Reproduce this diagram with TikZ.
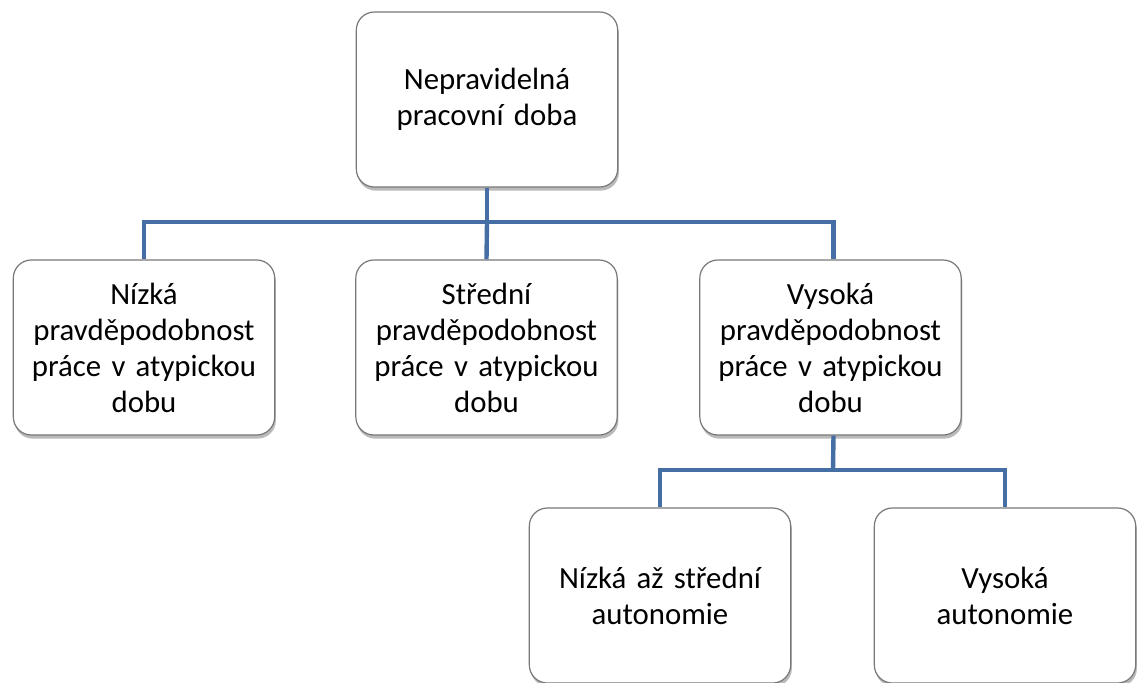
\documentclass[tikz,border=0pt]{standalone}
\usepackage{fontspec}
\setmainfont{Carlito}
\usetikzlibrary{shadows}
\definecolor{linkblue}{RGB}{68,110,164}
\definecolor{boxgray}{RGB}{120,120,120}

\begin{document}
\begin{tikzpicture}[x=0.5pt,y=-0.5pt]
\useasboundingbox (0,0) rectangle (1141,682);
\begin{scope}[every node/.style={rectangle,rounded corners=9pt,draw=boxgray,line width=0.6pt,fill=white,
    minimum width=130pt,minimum height=87.5pt,text width=124pt,align=center,
    font=\fontsize{15.4}{18}\selectfont,
    drop shadow={shadow xshift=0.6pt,shadow yshift=-1.8pt,opacity=0.45,fill=black!60}}]
    \node (top) at (487,99.5) {Nepravidelná\\pracovní doba};
    \node (low) at (144,347.5) {Nízká\\pravděpodobnost\\práce v atypickou\\dobu};
    \node (mid) at (486.5,347.5) {Střední\\pravděpodobnost\\práce v atypickou\\dobu};
    \node (high) at (830.5,347.5) {Vysoká\\pravděpodobnost\\práce v atypickou\\dobu};
    \node (lowmid) at (660,595.5) {Nízká až střední\\autonomie};
    \node (highaut) at (1005,595.5) {Vysoká\\autonomie};
\end{scope}
\coordinate (j1) at (487,222);
\coordinate (j2) at (833,470);
\begin{scope}[line width=2.2pt,draw=linkblue]
    \draw (top.south) -- (j1);
    \draw (j1) -| (low.north);
    \draw (j1) -- (mid.north);
    \draw (j1) -| ([xshift=1.5pt]high.north);
    \draw ([xshift=1.5pt]high.south) -- (j2);
    \draw (j2) -| (lowmid.north);
    \draw (j2) -| (highaut.north);
\end{scope}
\end{tikzpicture}
\end{document}
